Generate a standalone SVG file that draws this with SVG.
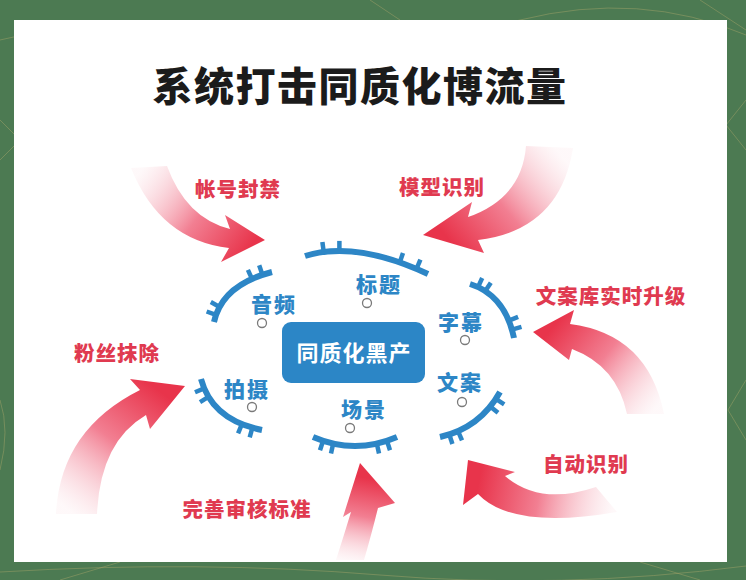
<svg xmlns="http://www.w3.org/2000/svg" width="746" height="580" viewBox="0 0 746 580">
<defs>
<style>
.bg{fill:#4c7a52}
.deco{stroke:#a9a66a;stroke-width:1;fill:none;opacity:.45}
.card{fill:#ffffff}
.title{font-family:"Noto Sans CJK SC","Noto Sans",sans-serif;font-weight:900;font-size:40px;fill:#1b1b1b;text-anchor:middle;letter-spacing:1.5px}
.lbl{font-family:"Noto Sans CJK SC","Noto Sans",sans-serif;font-weight:900;font-size:21px;fill:#2d86c6;text-anchor:middle;letter-spacing:2px}
.red{font-family:"Noto Sans CJK SC","Noto Sans",sans-serif;font-weight:900;font-size:20.5px;fill:#e03a50;text-anchor:middle;letter-spacing:1px}
.ctext{font-family:"Noto Sans CJK SC","Noto Sans",sans-serif;font-weight:700;font-size:22px;fill:#ffffff;text-anchor:middle;letter-spacing:1px}
.arc{fill:none;stroke:#2d86c6;stroke-width:6;stroke-linecap:butt}
.tick{stroke:#2d86c6;stroke-width:4.5;stroke-linecap:butt}
.dot{fill:#ffffff;stroke:#7a7a7a;stroke-width:1.3}
</style>
<linearGradient id="g1" gradientUnits="userSpaceOnUse" x1="145" y1="165" x2="252" y2="245"><stop offset="0" stop-color="#f9d3da" stop-opacity="0.15"/><stop offset="0.55" stop-color="#f27f92"/><stop offset="1" stop-color="#e8344b"/></linearGradient>
<linearGradient id="g2" gradientUnits="userSpaceOnUse" x1="552" y1="145" x2="445" y2="235"><stop offset="0" stop-color="#f9d3da" stop-opacity="0.15"/><stop offset="0.55" stop-color="#f27f92"/><stop offset="1" stop-color="#e8344b"/></linearGradient>
<linearGradient id="g3" gradientUnits="userSpaceOnUse" x1="650" y1="415" x2="548" y2="333"><stop offset="0" stop-color="#f9d3da" stop-opacity="0.15"/><stop offset="0.55" stop-color="#f27f92"/><stop offset="1" stop-color="#e8344b"/></linearGradient>
<linearGradient id="g4" gradientUnits="userSpaceOnUse" x1="615" y1="500" x2="480" y2="475"><stop offset="0" stop-color="#f9d3da" stop-opacity="0.15"/><stop offset="0.55" stop-color="#f27f92"/><stop offset="1" stop-color="#e8344b"/></linearGradient>
<linearGradient id="g5" gradientUnits="userSpaceOnUse" x1="75" y1="515" x2="165" y2="395"><stop offset="0" stop-color="#f9d3da" stop-opacity="0.15"/><stop offset="0.55" stop-color="#f27f92"/><stop offset="1" stop-color="#e8344b"/></linearGradient>
<linearGradient id="g6" gradientUnits="userSpaceOnUse" x1="350" y1="562" x2="366" y2="478"><stop offset="0" stop-color="#f9d3da" stop-opacity="0.15"/><stop offset="0.55" stop-color="#f27f92"/><stop offset="1" stop-color="#e8344b"/></linearGradient>
</defs>

<g id="background">
<rect class="bg" x="0" y="0" width="746" height="580"/>
<path class="deco" d="M0,40 Q120,10 260,30 T520,20 T746,35"/>
<path class="deco" d="M0,120 L20,140 L0,160"/>
<path class="deco" d="M746,100 L726,125 L746,150"/>
<path class="deco" d="M0,400 Q10,430 0,470"/>
<path class="deco" d="M746,380 L728,410 L746,440"/>
<path class="deco" d="M0,572 Q200,560 380,575 T746,566"/>
<path class="deco" d="M60,580 L120,562"/>
<path class="deco" d="M640,562 L700,580"/>
<path class="deco" d="M700,0 L746,30"/>
<path class="deco" d="M370,0 L400,20"/>
<rect class="card" x="14" y="20" width="713" height="542"/>
</g>

<text class="title" x="360" y="101">系统打击同质化博流量</text>

<g id="connectors">
<path id="arrow-zhanghao" fill="url(#g1)" d="M167,166 Q186,218 230,229 L225,215 L265,240 L221,262 L229,248 Q160,240 131,168 Z"/>
<path id="arrow-moxing" fill="url(#g2)" d="M526,146 Q522,198 468,217 L472,202 L423,235 L484,253 L478,240 Q560,230 573,148 Z"/>
<path id="arrow-wenanku" fill="url(#g3)" d="M570,324 L574,310 L533,332 L569,360 L572,349 Q617,366 627,414 L664,414 Q648,334 570,324 Z"/>
<path id="arrow-zidong" fill="url(#g4)" d="M505,476 L515,472 L468,460 L463,505 L478,494 Q512,530 617,512 L596,487 Q540,506 505,476 Z"/>
<path id="arrow-fensi" fill="url(#g5)" d="M140,390 L130,379 L185,386 L150,429 L146,415 Q100,442 97,514 L56,514 Q60,430 140,390 Z"/>
<path id="arrow-shenhe" fill="url(#g6)" d="M351,512 L343,517 L360,463 L395,503 L378,508 Q371,536 364,560 L336,560 Q344,535 351,512 Z"/>
</g>

<g id="center">
<rect x="282" y="322" width="143" height="61" rx="9" fill="#2c86c6"/>
<text class="ctext" x="354" y="361">同质化黑产</text>
</g>

<g id="node-biaoti">
<path class="arc" d="M305,256 Q355,240 428,274"/>
<line class="tick" x1="323.7" y1="251.9" x2="322.4" y2="242"/>
<line class="tick" x1="339.4" y1="250.9" x2="339.4" y2="240.9"/>
<line class="tick" x1="399.7" y1="262.4" x2="403" y2="253"/>
<line class="tick" x1="416.5" y1="268.9" x2="420.4" y2="259.7"/>
<text class="lbl" x="379" y="292">标题</text>
<circle class="dot" cx="367" cy="303" r="4.5"/>
</g>

<g id="node-yinpin">
<path class="arc" d="M214,322 Q222,285 272,272"/>
<line class="tick" x1="216" y1="314.8" x2="206.6" y2="311.5"/>
<line class="tick" x1="219.6" y1="306.9" x2="210.8" y2="302.1"/>
<line class="tick" x1="252" y1="278.9" x2="247.9" y2="269.8"/>
<line class="tick" x1="262.4" y1="274.8" x2="259.2" y2="265.3"/>
<text class="lbl" x="274" y="312">音频</text>
<circle class="dot" cx="262" cy="323" r="4.5"/>
</g>

<g id="node-zimu">
<path class="arc" d="M470,284 Q505,295 514,338"/>
<line class="tick" x1="478" y1="287.1" x2="482.2" y2="278"/>
<line class="tick" x1="485.3" y1="291.1" x2="490.8" y2="282.7"/>
<line class="tick" x1="508.8" y1="320.6" x2="518.1" y2="316.8"/>
<line class="tick" x1="511.9" y1="329.7" x2="521.5" y2="326.9"/>
<text class="lbl" x="461" y="330">字幕</text>
<circle class="dot" cx="465" cy="340" r="4.5"/>
</g>

<g id="node-wenan">
<path class="arc" d="M440,437 Q480,428 500,392"/>
<line class="tick" x1="449.3" y1="434.5" x2="452.4" y2="444"/>
<line class="tick" x1="458" y1="431.1" x2="462" y2="440.3"/>
<line class="tick" x1="490.2" y1="406.5" x2="498" y2="412.8"/>
<line class="tick" x1="495.8" y1="398.9" x2="504.2" y2="404.4"/>
<text class="lbl" x="460" y="390">文案</text>
<circle class="dot" cx="462" cy="402" r="4.5"/>
</g>

<g id="node-changjing">
<path class="arc" d="M313,437 Q355,455 397,437"/>
<line class="tick" x1="323.1" y1="440.8" x2="320" y2="450.3"/>
<line class="tick" x1="333.2" y1="443.6" x2="331" y2="453.4"/>
<line class="tick" x1="376.8" y1="443.6" x2="379" y2="453.4"/>
<line class="tick" x1="386.9" y1="440.8" x2="390" y2="450.3"/>
<text class="lbl" x="364" y="417">场景</text>
<circle class="dot" cx="350" cy="428" r="4.5"/>
</g>

<g id="node-paishe">
<path class="arc" d="M201,379 Q212,420 262,430"/>
<line class="tick" x1="204.2" y1="388.4" x2="195" y2="392.3"/>
<line class="tick" x1="208.5" y1="396.9" x2="200" y2="402.1"/>
<line class="tick" x1="241.9" y1="424.1" x2="238.1" y2="433.4"/>
<line class="tick" x1="252.4" y1="427.7" x2="249.7" y2="437.3"/>
<text class="lbl" x="247" y="397">拍摄</text>
<circle class="dot" cx="252" cy="407" r="4.5"/>
</g>

<g id="labels-red">
<text class="red" x="238" y="197">帐号封禁</text>
<text class="red" x="442" y="195">模型识别</text>
<text class="red" x="611" y="304">文案库实时升级</text>
<text class="red" x="586" y="472">自动识别</text>
<text class="red" x="117" y="361">粉丝抹除</text>
<text class="red" x="247" y="517">完善审核标准</text>
</g>
</svg>
